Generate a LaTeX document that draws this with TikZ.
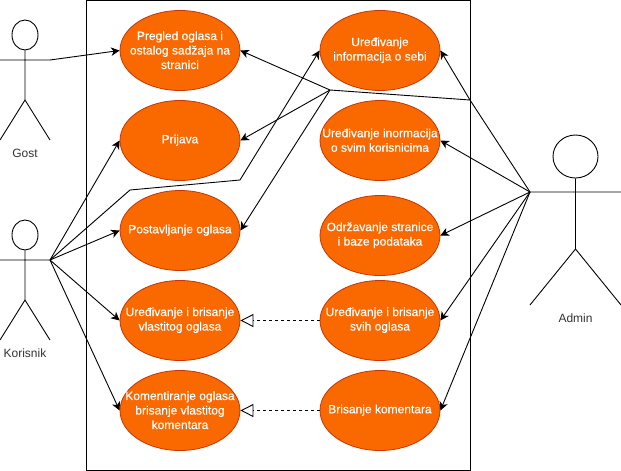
\documentclass[tikz,border=0pt]{standalone}
\usepackage{fontspec}
\setmainfont{Liberation Sans}
\newfontfamily\ucfont[FakeBold=0.4]{Liberation Sans}
\usetikzlibrary{shapes.geometric,arrows.meta}
\definecolor{ucfill}{HTML}{FA6800}
\definecolor{ucline}{HTML}{C73500}
\definecolor{actortext}{HTML}{333333}
\tikzset{
  uc/.style={ellipse,draw=ucline,fill=ucfill,line width=0.8pt,minimum width=120pt,minimum height=80pt,inner sep=0pt},
  uctext/.style={text=white,align=center,inner sep=0pt,yshift=0.3pt,font=\fontsize{12}{14.5}\selectfont\ucfont},
  head/.style={ellipse,draw=black,line width=0.9pt,inner sep=0pt},
  actorline/.style={draw=black,line width=0.9pt},
  actorlabel/.style={text=actortext,inner sep=0pt,font=\fontsize{12}{14.5}\selectfont},
  assoc/.style={draw=black,line width=0.9pt,-{Stealth[length=8.5pt,width=8.5pt,inset=2.5pt]}},
  gener/.style={draw=black,line width=0.9pt,dash pattern=on 3pt off 3pt,-{Triangle[open,length=13pt,width=13pt,fill=white]}},
}
\newcommand{\usecase}[3]{\node[uc,label={[uctext]center:{#3}}] (#1) at #2 {};}
\begin{document}
\begin{tikzpicture}[x=1pt,y=-1pt]
\useasboundingbox (0,0) rectangle (621,471);
\node[draw=black,line width=1pt,minimum width=383.5pt,minimum height=470pt,inner sep=0pt] (frame) at (278.5,235.2) {};
% use cases
\usecase{pregled}{(180,50.5)}{Pregled oglasa i\\ostalog sadžaja na\\stranici}
\usecase{prijava}{(180,140.5)}{Prijava}
\usecase{postavljanje}{(180,230.5)}{Postavljanje oglasa}
\usecase{vlastiti}{(180,320.5)}{Uređivanje i brisanje\\vlastitog oglasa}
\usecase{komentiranje}{(180,410.5)}{Komentiranje oglasa\\brisanje vlastitog\\komentara}
\usecase{sebi}{(380,50.5)}{Uređivanje\\informacija o sebi}
\usecase{korisnici}{(380,140.5)}{Uređivanje inormacija\\o svim korisnicima}
\usecase{odrzavanje}{(380,235.5)}{Održavanje stranice\\i baze podataka}
\usecase{svi}{(380,320.5)}{Uređivanje i brisanje\\svih oglasa}
\usecase{brisanje}{(380,410.5)}{Brisanje komentara}
% actor Gost
\node[head,minimum width=26pt,minimum height=30pt] (gosthead) at (25,35) {};
\coordinate (gosthip) at (25,100);
\coordinate (gostarmL) at (0,60);
\coordinate (gostarmR) at (50,60);
\coordinate (gostlegL) at (0,140);
\coordinate (gostlegR) at (50,140);
\path[actorline] (gosthead.south) -- (gosthip) (gostarmL) -- (gostarmR) (gostlegL) -- (gosthip) -- (gostlegR);
\node[actorlabel] (gost) at (25,153) {Gost};
% actor Korisnik
\node[head,minimum width=26pt,minimum height=30pt] (korhead) at (25,235) {};
\coordinate (korhip) at (25,300);
\coordinate (korarmL) at (0,260);
\coordinate (korarmR) at (50,260);
\coordinate (korlegL) at (0,340);
\coordinate (korlegR) at (50,340);
\path[actorline] (korhead.south) -- (korhip) (korarmL) -- (korarmR) (korlegL) -- (korhip) -- (korlegR);
\node[actorlabel] (korisnik) at (25,353) {Korisnik};
% actor Admin
\node[head,minimum width=45pt,minimum height=43pt] (adminhead) at (575.5,156.5) {};
\coordinate (adminhip) at (575.5,249);
\coordinate (adminarmL) at (530,192);
\coordinate (adminarmR) at (621,192);
\coordinate (adminlegL) at (530,305);
\coordinate (adminlegR) at (621,305);
\path[actorline] (adminhead.south) -- (adminhip) (adminarmL) -- (adminarmR) (adminlegL) -- (adminhip) -- (adminlegR);
\node[actorlabel] (admin) at (575.5,318) {Admin};
% waypoints
\coordinate (wpA) at (470,100);
\coordinate (wpB) at (330,90);
\coordinate (wpC) at (130,190);
\coordinate (wpD) at (240,180);
% connectors
\draw[assoc] (gostarmR) -- (pregled.west);
\draw[assoc] (korarmR) -- (prijava.west);
\draw[assoc] (korarmR) -- (postavljanje.west);
\draw[assoc] (korarmR) -- (vlastiti.west);
\draw[assoc] (korarmR) -- (komentiranje.west);
\draw[assoc] (korarmR) -- (wpC) -- (wpD) -- (sebi.west);
\draw[assoc] (adminarmL) -- (wpA) -- (sebi.east);
\draw[assoc] (adminarmL) -- (korisnici.east);
\draw[assoc] (adminarmL) -- (odrzavanje.east);
\draw[assoc] (adminarmL) -- (svi.east);
\draw[assoc] (adminarmL) -- (brisanje.east);
\draw[assoc] (wpA) -- (wpB) -- (pregled.east);
\draw[assoc] (wpB) -- (prijava.east);
\draw[assoc] (wpB) -- (postavljanje.east);
\draw[gener] (svi.west) -- (vlastiti.east);
\draw[gener] (brisanje.west) -- (komentiranje.east);
\end{tikzpicture}
\end{document}
